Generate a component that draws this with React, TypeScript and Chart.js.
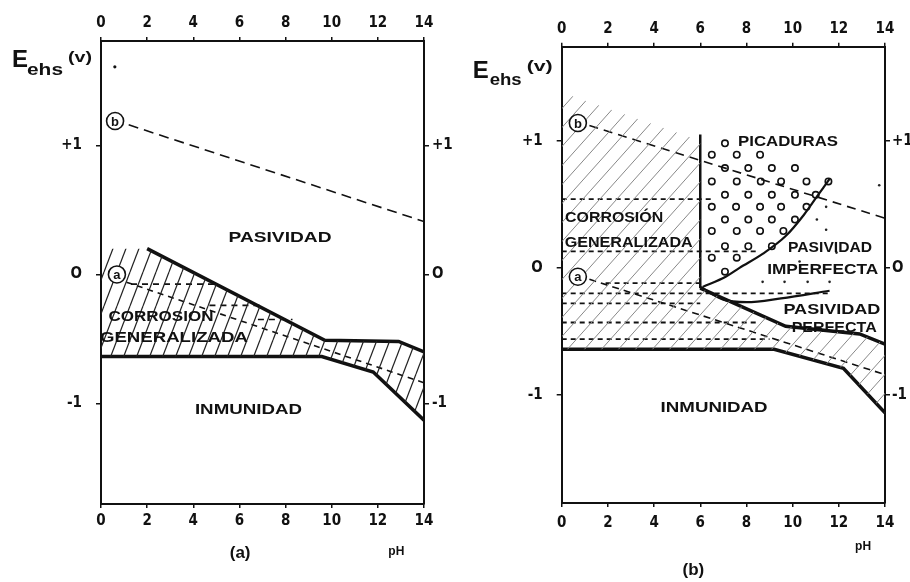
import React, { useEffect, useRef } from "react";
import { Chart, registerables } from "chart.js";

Chart.register(...registerables);

// ---------- shared axis data ----------
const PH_TICKS = [0, 2, 4, 6, 8, 10, 12, 14];
const E_TICKS = [-1, 0, 1];
const E_TICK_LABELS = ["-1", "O", "+1"];

// ---------- panel (a) ----------
const A_HATCH_TOP_PH = [0, 2, 9.7, 12.9, 14];
const A_HATCH_TOP_E = [0.2, 0.2, -0.51, -0.52, -0.6];
const A_LOWER_PH = [0, 9.57, 11.8, 14];
const A_LOWER_E = [-0.636, -0.636, -0.757, -1.13];
const A_UPPER_PH = [2, 9.7, 12.9, 14];
const A_UPPER_E = [0.2, -0.51, -0.52, -0.6];
const A_LINE_B_PH = [1.2, 14];
const A_LINE_B_E = [1.16, 0.41];
const A_LINE_A_PH = [1.1, 14];
const A_LINE_A_E = [-0.06, -0.84];
const A_H1_PH = [1.3, 4.9];
const A_H1_E = [-0.075, -0.075];
const A_H2_PH = [4.7, 6.9];
const A_H2_E = [-0.24, -0.24];
const A_H3_PH = [6.8, 8.3];
const A_H3_E = [-0.35, -0.35];
const A_SPECK_PH = [0.6];
const A_SPECK_E = [1.61];

const A_LABELS = ["PASIVIDAD", "CORROSION", "GENERALIZADA", "INMUNIDAD"];
const A_LABEL_PH = [7.76, 2.6, 3.16, 6.39];
const A_LABEL_E = [0.28, -0.33, -0.49, -1.05];
const A_LABEL_W = [103, 105, 148, 107];
const A_MARKS = ["b", "a"];
const A_MARK_PH = [0.61, 0.69];
const A_MARK_E = [1.19, 0.0];

// ---------- panel (b) ----------
const B_HATCH_TOP_PH = [0, 6, 6, 9.7, 12.9, 14];
const B_HATCH_TOP_E = [1.38, 1.0, -0.16, -0.46, -0.52, -0.6];
const B_LOWER_PH = [0, 9.2, 12.2, 14];
const B_LOWER_E = [-0.64, -0.64, -0.79, -1.14];
const B_UPPER_PH = [6, 9.7, 12.9, 14];
const B_UPPER_E = [-0.16, -0.46, -0.52, -0.6];
const B_VERT_PH = [6, 6];
const B_VERT_E = [1.05, -0.16];
const B_CURVE_UP_PH = [6.1, 7.1, 7.7, 8.7, 9.7, 10.5, 11.05, 11.6];
const B_CURVE_UP_E = [-0.15, -0.07, 0.0, 0.11, 0.25, 0.42, 0.56, 0.7];
const B_CURVE_LO_PH = [6.0, 7.0, 8.0, 9.5, 11.6];
const B_CURVE_LO_E = [-0.15, -0.25, -0.27, -0.24, -0.18];
const B_LINE_B_PH = [1.2, 14];
const B_LINE_B_E = [1.12, 0.39];
const B_LINE_A_PH = [1.2, 14];
const B_LINE_A_E = [-0.09, -0.84];
const B_HLINE_E = [0.54, 0.13, -0.12, -0.2, -0.28, -0.43, -0.56];
const B_HLINE_FROM = [0, 0, 1.9, 0, 0, 0, 0];
const B_HLINE_TO = [6.6, 8.5, 6.0, 11.6, 6.0, 8.5, 9.0];
const B_PIT_PH = [
  7.07,
  6.5, 7.58, 8.59,
  7.07, 8.08, 9.1, 10.1,
  6.5, 7.58, 8.62, 9.5, 10.6, 11.55,
  7.07, 8.08, 9.1, 10.1, 11.0,
  6.5, 7.55, 8.59, 9.5, 10.6,
  7.07, 8.08, 9.1, 10.1,
  6.5, 7.58, 8.59, 9.6,
  7.07, 8.08, 9.1,
  6.5, 7.58,
  7.07,
];
const B_PIT_E = [
  0.98,
  0.89, 0.89, 0.89,
  0.785, 0.785, 0.785, 0.785,
  0.68, 0.68, 0.68, 0.68, 0.68, 0.68,
  0.575, 0.575, 0.575, 0.575, 0.575,
  0.48, 0.48, 0.48, 0.48, 0.48,
  0.38, 0.38, 0.38, 0.38,
  0.29, 0.29, 0.29, 0.29,
  0.17, 0.17, 0.17,
  0.08, 0.08,
  -0.03,
];
const B_DOT_PH = [11.45, 11.05, 11.45, 10.3, 11.9, 8.7, 9.65, 10.65, 11.6, 13.75];
const B_DOT_E = [0.48, 0.38, 0.3, 0.05, 0.12, -0.11, -0.11, -0.11, -0.11, 0.65];

const B_LABELS = ["PICADURAS", "CORROSIÓN", "GENERALIZADA", "PASIVIDAD", "IMPERFECTA", "PASIVIDAD", "PERFECTA", "INMUNIDAD"];
const B_LABEL_PH = [9.8, 2.27, 2.9, 11.62, 11.3, 11.7, 11.8, 6.6];
const B_LABEL_E = [0.99, 0.39, 0.2, 0.157, -0.016, -0.33, -0.47, -1.1];
const B_LABEL_W = [100, 98, 128, 84, 111, 97, 85, 107];
const B_MARKS = ["b", "a"];
const B_MARK_PH = [0.7, 0.7];
const B_MARK_E = [1.14, -0.07];

// ---------- helpers ----------
type Pt = { x: number; y: number };
const pts = (xs: number[], ys: number[]): Pt[] => xs.map((x, i) => ({ x, y: ys[i] }));

const TICK_FONT = '"Liberation Sans Narrow", "DejaVu Sans Condensed", "Liberation Sans", Arial, sans-serif';
const LABEL_FONT = '"Liberation Sans", Arial, sans-serif';

function makeHatch(ctx: CanvasRenderingContext2D, w: number, h: number, color: string, lw: number) {
  const c = document.createElement("canvas");
  c.width = w;
  c.height = h;
  const g = c.getContext("2d")!;
  g.strokeStyle = color;
  g.lineWidth = lw;
  for (const dx of [-w, 0, w]) {
    g.beginPath();
    g.moveTo(dx, h);
    g.lineTo(dx + w, 0);
    g.stroke();
  }
  return ctx.createPattern(c, "repeat")!;
}

function drawFitText(
  ctx: CanvasRenderingContext2D, text: string, px: number, py: number, width: number, size: number,
  align: "center" | "left" = "center", baseline: CanvasTextBaseline = "middle",
) {
  ctx.save();
  ctx.font = `bold ${size}px ${LABEL_FONT}`;
  const m = ctx.measureText(text).width;
  ctx.translate(px, py);
  ctx.scale(width / m, 1);
  ctx.fillStyle = "#111";
  ctx.textAlign = align;
  ctx.textBaseline = baseline;
  ctx.fillText(text, 0, 0);
  ctx.restore();
}

type PanelCfg = {
  labels: string[];
  labelPh: number[];
  labelE: number[];
  labelW: number[];
  marks: string[];
  markPh: number[];
  markE: number[];
  title: string;
  titlePh: number;
  titleDy: number;
  phPh: number;
  phDy: number;
  eDx: number;
  eDy: number;
  ehsDx: number;
  ehsW: number;
  ehsDy: number;
  vDx: number;
  vW: number;
  vDy: number;
};

function makeTextPlugin(cfg: PanelCfg) {
  return {
    id: "panelTexts",
    afterDatasetsDraw(chart: any) {
      const ctx: CanvasRenderingContext2D = chart.ctx;
      const xs = chart.scales.x;
      const ys = chart.scales.y;
      const ca = chart.chartArea;
      cfg.labels.forEach((t, i) => {
        drawFitText(ctx, t, xs.getPixelForValue(cfg.labelPh[i]), ys.getPixelForValue(cfg.labelE[i]), cfg.labelW[i], 15);
      });
      cfg.marks.forEach((t, i) => {
        const px = xs.getPixelForValue(cfg.markPh[i]);
        const py = ys.getPixelForValue(cfg.markE[i]);
        ctx.save();
        ctx.fillStyle = "#fff";
        ctx.strokeStyle = "#111";
        ctx.lineWidth = 1.6;
        ctx.beginPath();
        ctx.arc(px, py, 8.5, 0, Math.PI * 2);
        ctx.fill();
        ctx.stroke();
        ctx.fillStyle = "#111";
        ctx.font = `bold 13px ${LABEL_FONT}`;
        ctx.textAlign = "center";
        ctx.textBaseline = "middle";
        ctx.fillText(t, px, py + 1);
        ctx.restore();
      });
      const ex = ca.left + cfg.eDx;
      const ey = ca.top + cfg.eDy;
      drawFitText(ctx, "E", ex, ey, 16, 23, "left", "alphabetic");
      drawFitText(ctx, "ehs", ex + cfg.ehsDx, ey + cfg.ehsDy, cfg.ehsW, 17, "left", "alphabetic");
      drawFitText(ctx, "(v)", ex + cfg.vDx, ey + cfg.vDy, cfg.vW, 14, "left", "alphabetic");
      ctx.save();
      ctx.fillStyle = "#111";
      ctx.textAlign = "center";
      ctx.textBaseline = "middle";
      ctx.font = `bold 17px ${LABEL_FONT}`;
      ctx.fillText(cfg.title, xs.getPixelForValue(cfg.titlePh), ca.bottom + cfg.titleDy);
      ctx.font = `bold 12px ${LABEL_FONT}`;
      ctx.fillText("pH", xs.getPixelForValue(cfg.phPh), ca.bottom + cfg.phDy);
      ctx.restore();
    },
  };
}

type Geo = {
  left: number; right: number; top: number; bottom: number;
  yMin: number; yMax: number;
  topPad: number; bottomPad: number; rightTick: number; rightPad: number;
};

function makeScales(g: Geo) {
  const xCommon = {
    type: "linear" as const,
    min: 0,
    max: 14,
    afterBuildTicks: (s: any) => { s.ticks = PH_TICKS.map((v) => ({ value: v })); },
    grid: { drawOnChartArea: false, tickLength: 4, color: "#111", lineWidth: 1.5 },
    border: { display: true, color: "#111", width: 2 },
  };
  const yCommon = {
    type: "linear" as const,
    min: g.yMin,
    max: g.yMax,
    afterBuildTicks: (s: any) => { s.ticks = E_TICKS.map((v) => ({ value: v })); },
    border: { display: true, color: "#111", width: 2 },
  };
  const tickFont = { family: TICK_FONT, size: 15, weight: "bold" as const };
  const yLabel = (v: any) => E_TICK_LABELS[E_TICKS.indexOf(Number(v))] ?? "";
  return {
    x: {
      ...xCommon,
      position: "bottom" as const,
      afterFit: (s: any) => { s.height = 582 - g.bottom; },
      ticks: { color: "#111", font: tickFont, padding: g.bottomPad, maxRotation: 0, autoSkip: false },
    },
    x2: {
      ...xCommon,
      position: "top" as const,
      afterFit: (s: any) => { s.height = g.top; },
      ticks: { color: "#111", font: tickFont, padding: g.topPad, maxRotation: 0, autoSkip: false },
    },
    y: {
      ...yCommon,
      position: "left" as const,
      afterFit: (s: any) => { s.width = g.left; },
      grid: { drawOnChartArea: false, tickLength: 5, color: "#111", lineWidth: 1.5 },
      ticks: { color: "#111", font: tickFont, padding: 14, callback: yLabel },
    },
    y2: {
      ...yCommon,
      position: "right" as const,
      afterFit: (s: any) => { s.width = 455 - g.right; },
      grid: { drawOnChartArea: false, tickLength: g.rightTick, color: "#111", lineWidth: 1.5 },
      ticks: { color: "#111", font: tickFont, padding: g.rightPad, callback: yLabel },
    },
  };
}

const lineDs = (data: Pt[], width: number, dash: number[] = [], extra: any = {}) => ({
  data,
  borderColor: "#111",
  borderWidth: width,
  borderDash: dash,
  pointRadius: 0,
  fill: false,
  tension: 0,
  ...extra,
});

function PanelA() {
  const ref = useRef<HTMLCanvasElement>(null);
  useEffect(() => {
    const canvas = ref.current!;
    const ctx = canvas.getContext("2d")!;
    const hatch = makeHatch(ctx, 13, 34, "#222", 1.2);
    const g: Geo = { left: 101, right: 424, top: 41, bottom: 504, yMin: -1.78, yMax: 1.81, topPad: 5, bottomPad: 4, rightTick: 5, rightPad: 3 };
    const chart = new Chart(canvas, {
      type: "line",
      data: {
        datasets: [
          {
            data: pts(A_HATCH_TOP_PH, A_HATCH_TOP_E),
            borderColor: "rgba(0,0,0,0)",
            borderWidth: 0,
            pointRadius: 0,
            backgroundColor: hatch,
            fill: { target: 1, above: hatch, below: hatch },
          },
          lineDs(pts(A_LOWER_PH, A_LOWER_E), 3.5),
          lineDs(pts(A_UPPER_PH, A_UPPER_E), 3.5),
          lineDs(pts(A_LINE_B_PH, A_LINE_B_E), 1.6, [10, 6]),
          lineDs(pts(A_LINE_A_PH, A_LINE_A_E), 1.6, [6, 5]),
          lineDs(pts(A_H1_PH, A_H1_E), 1.6, [6, 5]),
          lineDs(pts(A_H2_PH, A_H2_E), 1.6, [6, 5]),
          lineDs(pts(A_H3_PH, A_H3_E), 1.6, [6, 5]),
          { data: pts(A_SPECK_PH, A_SPECK_E), showLine: false, pointRadius: 1.6, backgroundColor: "#111", borderWidth: 0 },
        ] as any,
      },
      options: {
        animation: false,
        responsive: false,
        parsing: false as any,
        layout: { padding: 0 },
        plugins: { legend: { display: false }, tooltip: { enabled: false } },
        scales: makeScales(g) as any,
      },
      plugins: [
        makeTextPlugin({
          labels: A_LABELS, labelPh: A_LABEL_PH, labelE: A_LABEL_E, labelW: A_LABEL_W,
          marks: A_MARKS, markPh: A_MARK_PH, markE: A_MARK_E,
          title: "(a)", titlePh: 6.03, titleDy: 49, phPh: 12.8, phDy: 48,
          eDx: -89, eDy: 26, ehsDx: 15, ehsW: 36, ehsDy: 8, vDx: 56, vW: 24, vDy: -5,
        }),
      ],
    });
    return () => chart.destroy();
  }, []);
  return <canvas ref={ref} width={455} height={582} style={{ position: "absolute", left: 0, top: 0 }} />;
}

function PanelB() {
  const ref = useRef<HTMLCanvasElement>(null);
  useEffect(() => {
    const canvas = ref.current!;
    const ctx = canvas.getContext("2d")!;
    const hatch = makeHatch(ctx, 17, 19, "#888", 1.0);
    const g: Geo = { left: 106.7, right: 430, top: 46.7, bottom: 503, yMin: -1.85, yMax: 1.74, topPad: 5, bottomPad: 7, rightTick: 5, rightPad: 2 };
    const hLines = B_HLINE_E.map((e, i) => lineDs(pts([B_HLINE_FROM[i], B_HLINE_TO[i]], [e, e]), 1.8, [5, 4]));
    const chart = new Chart(canvas, {
      type: "line",
      data: {
        datasets: [
          {
            data: pts(B_HATCH_TOP_PH, B_HATCH_TOP_E),
            borderColor: "rgba(0,0,0,0)",
            borderWidth: 0,
            pointRadius: 0,
            backgroundColor: hatch,
            fill: { target: 1, above: hatch, below: hatch },
          },
          lineDs(pts(B_LOWER_PH, B_LOWER_E), 3.5),
          lineDs(pts(B_UPPER_PH, B_UPPER_E), 3.5),
          lineDs(pts(B_VERT_PH, B_VERT_E), 2.5),
          lineDs(pts(B_CURVE_UP_PH, B_CURVE_UP_E), 2.2, [], { cubicInterpolationMode: "monotone" }),
          lineDs(pts(B_CURVE_LO_PH, B_CURVE_LO_E), 2.2, [], { cubicInterpolationMode: "monotone" }),
          lineDs(pts(B_LINE_B_PH, B_LINE_B_E), 1.6, [9, 6]),
          lineDs(pts(B_LINE_A_PH, B_LINE_A_E), 1.6, [7, 5]),
          ...hLines,
          {
            data: pts(B_PIT_PH, B_PIT_E),
            showLine: false,
            pointRadius: 3.2,
            pointStyle: "circle",
            backgroundColor: "#fff",
            borderColor: "#111",
            borderWidth: 1.6,
          },
          { data: pts(B_DOT_PH, B_DOT_E), showLine: false, pointRadius: 1.3, backgroundColor: "#222", borderWidth: 0 },
        ] as any,
      },
      options: {
        animation: false,
        responsive: false,
        parsing: false as any,
        layout: { padding: 0 },
        plugins: { legend: { display: false }, tooltip: { enabled: false } },
        scales: makeScales(g) as any,
      },
      plugins: [
        makeTextPlugin({
          labels: B_LABELS, labelPh: B_LABEL_PH, labelE: B_LABEL_E, labelW: B_LABEL_W,
          marks: B_MARKS, markPh: B_MARK_PH, markE: B_MARK_E,
          title: "(b)", titlePh: 5.7, titleDy: 67, phPh: 13.05, phDy: 44,
          eDx: -89, eDy: 31, ehsDx: 17, ehsW: 32, ehsDy: 7, vDx: 54, vW: 26, vDy: -7,
        }),
      ],
    });
    return () => chart.destroy();
  }, []);
  return <canvas ref={ref} width={455} height={582} style={{ position: "absolute", left: 455, top: 0 }} />;
}

export default function App() {
  return (
    <div style={{ position: "fixed", left: 0, top: 0, width: 910, height: 582, background: "#fff", overflow: "hidden" }}>
      <PanelA />
      <PanelB />
    </div>
  );
}
